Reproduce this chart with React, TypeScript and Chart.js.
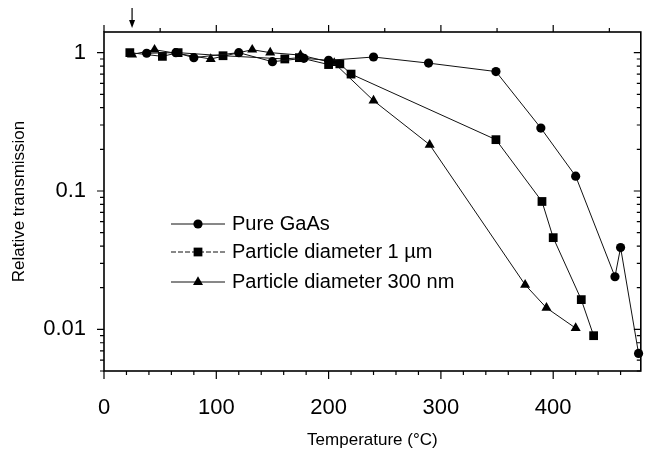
import React, { useEffect, useRef } from 'react';
import { Chart, registerables } from 'chart.js';

Chart.register(...registerables);

const FONT = 'Liberation Sans, Arial, Helvetica, sans-serif';

// Pure GaAs (circles)
const gaasT = [38, 64, 80, 120, 150, 178, 200, 240, 289, 349, 389, 420, 455, 460, 476];
const gaasV = [0.99, 1.0, 0.92, 1.0, 0.86, 0.91, 0.88, 0.93, 0.84, 0.73, 0.285, 0.128, 0.024, 0.039, 0.0067];
// Particle diameter 1 µm (squares)
const p1T = [23, 52, 66, 106, 161, 174, 200, 210, 220, 349, 390, 400, 425, 436];
const p1V = [1.0, 0.94, 1.0, 0.95, 0.9, 0.92, 0.82, 0.83, 0.7, 0.235, 0.084, 0.046, 0.0164, 0.009];
// Particle diameter 300 nm (triangles)
const p300T = [25, 45, 95, 132, 148, 175, 205, 240, 290, 375, 394, 420];
const p300V = [0.97, 1.05, 0.9, 1.05, 1.0, 0.96, 0.84, 0.45, 0.216, 0.021, 0.0143, 0.0102];

const xTickLabels = [0, 100, 200, 300, 400];
const yTickLabels = [0.01, 0.1, 1];
const seriesNames = ['Pure GaAs', 'Particle diameter 1 \u00b5m', 'Particle diameter 300 nm'];
const markerStyles = ['circle', 'rect', 'triangle'];
const markerRadius = [4.6, 6.2, 5.8];
const arrowAt = 25;

const toPts = (t: number[], v: number[]) => t.map((x, i) => ({ x, y: v[i] }));

const decor = {
  id: 'decor',
  afterDraw(chart: any) {
    const ctx = chart.ctx;
    const { left, right, top, bottom } = chart.chartArea;
    const xs = chart.scales.x;
    const ys = chart.scales.y;
    ctx.save();
    ctx.strokeStyle = '#000';
    ctx.fillStyle = '#000';
    ctx.lineWidth = 1.6;
    ctx.strokeRect(left, top, right - left, bottom - top);
    ctx.lineWidth = 1.2;
    ctx.beginPath();
    for (let v = 0; v <= xs.max; v += 20) {
      const px = xs.getPixelForValue(v);
      const len = v % 100 === 0 ? 8 : 4;
      ctx.moveTo(px, bottom);
      ctx.lineTo(px, bottom + len);
    }
    for (let v = 0; v <= xs.max; v += 50) {
      const px = xs.getPixelForValue(v);
      const len = v % 100 === 0 ? 7 : 4;
      ctx.moveTo(px, top);
      ctx.lineTo(px, top - len);
    }
    for (const d of [0.001, 0.01, 0.1, 1]) {
      for (let m = 1; m <= 9; m++) {
        const val = m * d;
        if (val < ys.min || val > ys.max) continue;
        const py = ys.getPixelForValue(val);
        const len = m === 1 ? 7 : 4;
        ctx.moveTo(left - len, py);
        ctx.lineTo(left, py);
        ctx.moveTo(right - len, py);
        ctx.lineTo(right, py);
      }
    }
    ctx.stroke();

    // arrow
    const ax = xs.getPixelForValue(arrowAt);
    ctx.lineWidth = 1.2;
    ctx.beginPath();
    ctx.moveTo(ax, 8);
    ctx.lineTo(ax, top - 8);
    ctx.stroke();
    ctx.beginPath();
    ctx.moveTo(ax - 3, top - 12);
    ctx.lineTo(ax + 3, top - 12);
    ctx.lineTo(ax, top - 4);
    ctx.closePath();
    ctx.fill();

    // legend
    const rows = [224, 252, 282];
    ctx.font = `20px ${FONT}`;
    ctx.textBaseline = 'middle';
    ctx.textAlign = 'left';
    rows.forEach((ry, i) => {
      ctx.lineWidth = 1;
      ctx.strokeStyle = '#111';
      ctx.setLineDash(i === 1 ? [5, 2] : []);
      ctx.beginPath();
      ctx.moveTo(171, ry);
      ctx.lineTo(225, ry);
      ctx.stroke();
      ctx.setLineDash([]);
      ctx.fillStyle = '#000';
      ctx.beginPath();
      if (i === 0) ctx.arc(198, ry, markerRadius[0], 0, Math.PI * 2);
      else if (i === 1) {
        const s = markerRadius[1] * Math.SQRT1_2;
        ctx.rect(198 - s, ry - s, 2 * s, 2 * s);
      } else {
        const r = markerRadius[2];
        ctx.moveTo(198, ry - r);
        ctx.lineTo(198 + r * 0.866, ry + r * 0.5);
        ctx.lineTo(198 - r * 0.866, ry + r * 0.5);
        ctx.closePath();
      }
      ctx.fill();
      ctx.fillText(seriesNames[i], 232, ry);
    });
    ctx.restore();
  },
};

export default function App() {
  const ref = useRef<HTMLCanvasElement | null>(null);
  useEffect(() => {
    document.body.style.margin = '0';
    if (!ref.current) return;
    const mk = (label: string, data: any, i: number) => ({
      label,
      data,
      borderColor: '#111',
      backgroundColor: '#000',
      borderWidth: 1,
      pointStyle: markerStyles[i],
      pointRadius: markerRadius[i],
      pointBorderWidth: 0,
      pointBackgroundColor: '#000',
      showLine: true,
      tension: 0,
      clip: false as any,
    });
    const chart = new Chart(ref.current, {
      type: 'scatter',
      data: {
        datasets: [
          mk(seriesNames[0], toPts(gaasT, gaasV), 0),
          mk(seriesNames[1], toPts(p1T, p1V), 1),
          mk(seriesNames[2], toPts(p300T, p300V), 2),
        ],
      },
      options: {
        responsive: false,
        animation: false,
        layout: { padding: { top: 32, right: 2, left: 0, bottom: 0 } },
        plugins: { legend: { display: false }, tooltip: { enabled: false } },
        scales: {
          x: {
            type: 'linear',
            min: 0,
            max: 478,
            afterBuildTicks: (s: any) => {
              s.ticks = xTickLabels.map((v) => ({ value: v }));
            },
            afterFit: (s: any) => {
              s.height = 86;
            },
            grid: { display: false },
            border: { display: false },
            ticks: {
              color: '#000',
              font: { size: 22, family: FONT },
              padding: 16,
              maxRotation: 0,
              autoSkip: false,
              callback: (v: any) => String(v),
            },
            title: {
              display: true,
              text: 'Temperature (\u00b0C)',
              color: '#000',
              font: { size: 17, family: FONT },
              padding: { top: 0, bottom: 6 },
            },
          },
          y: {
            type: 'logarithmic',
            min: 0.005,
            max: 1.41,
            afterBuildTicks: (s: any) => {
              s.ticks = yTickLabels.map((v) => ({ value: v }));
            },
            afterFit: (s: any) => {
              s.width = 104;
            },
            grid: { display: false },
            border: { display: false },
            ticks: {
              color: '#000',
              font: { size: 22, family: FONT },
              padding: 10,
              autoSkip: false,
              callback: (v: any) => String(v),
            },
            title: {
              display: true,
              text: 'Relative transmission',
              color: '#000',
              font: { size: 17, family: FONT },
              padding: { top: 9, bottom: 0 },
            },
          },
        },
      },
      plugins: [decor],
    });
    return () => chart.destroy();
  }, []);
  return (
    <div style={{ position: 'fixed', left: 0, top: 0, width: 647, height: 457 }}>
      <canvas ref={ref} width={647} height={457} />
    </div>
  );
}
